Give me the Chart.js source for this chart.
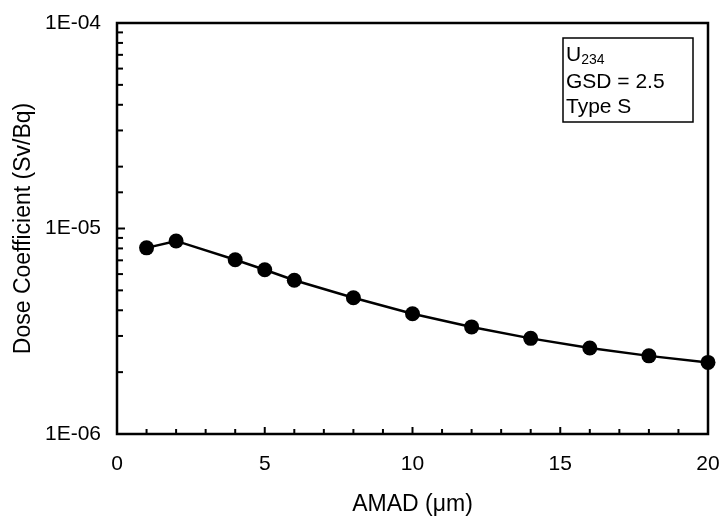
<!DOCTYPE html>
<html>
<head>
<meta charset="utf-8">
<script src="https://cdn.jsdelivr.net/npm/chart.js@4/dist/chart.umd.min.js"></script>
<style>
  html, body { margin: 0; padding: 0; background: #fff; }
  #wrap { width: 721px; height: 516px; position: relative; }
</style>
</head>
<body>
<div id="wrap"><canvas id="chart"></canvas></div>
<script>
// Data
const amad = [1, 2, 4, 5, 6, 8, 10, 12, 14, 16, 18, 20];
const doseCoeff = [8.05e-6, 8.7e-6, 7.05e-6, 6.3e-6, 5.6e-6, 4.6e-6, 3.85e-6, 3.32e-6, 2.92e-6, 2.62e-6, 2.4e-6, 2.23e-6];
const xTickLabels = [0, 5, 10, 15, 20];
const yTickLabels = ['1E-06', '1E-05', '1E-04'];
const noteLines = ['GSD = 2.5', 'Type S'];

const FONT = '"Liberation Sans", Arial, sans-serif';

// Frame + inward ticks + the note box
const framePlugin = {
    id: 'frame',
    afterDraw(chart) {
        const { ctx, chartArea: a, scales } = chart;
        ctx.save();
        ctx.strokeStyle = '#000';

        // x ticks pointing up
        ctx.lineWidth = 2;
        scales.x.ticks.forEach(t => {
            const px = scales.x.getPixelForValue(t.value);
            const len = xTickLabels.includes(t.value) ? 7 : 5;
            ctx.beginPath();
            ctx.moveTo(px, a.bottom);
            ctx.lineTo(px, a.bottom - len);
            ctx.stroke();
        });
        // y ticks pointing right
        scales.y.ticks.forEach(t => {
            const py = scales.y.getPixelForValue(t.value);
            const e = Math.log10(t.value);
            const len = Math.abs(e - Math.round(e)) < 1e-6 ? 8 : 6;
            ctx.beginPath();
            ctx.moveTo(a.left, py);
            ctx.lineTo(a.left + len, py);
            ctx.stroke();
        });

        ctx.lineWidth = 2.5;
        ctx.strokeRect(a.left, a.top, a.right - a.left, a.bottom - a.top);

        // note box
        const bx = 563, by = 38, bw = 130, bh = 84;
        ctx.lineWidth = 1.5;
        ctx.strokeRect(bx, by, bw, bh);
        ctx.fillStyle = '#000';
        ctx.textBaseline = 'alphabetic';
        ctx.textAlign = 'left';
        ctx.font = '21px ' + FONT;
        ctx.fillText('U', bx + 3, by + 23);
        const uw = ctx.measureText('U').width;
        ctx.font = '14px ' + FONT;
        ctx.fillText('234', bx + 3 + uw, by + 26);
        ctx.font = '21px ' + FONT;
        noteLines.forEach((line, i) => {
            ctx.fillText(line, bx + 3, by + 49.5 + i * 25.5);
        });
        ctx.restore();
    }
};

new Chart(document.getElementById('chart'), {
    type: 'line',
    data: {
        datasets: [{
            data: amad.map((x, i) => ({ x: x, y: doseCoeff[i] })),
            borderColor: '#000',
            backgroundColor: '#000',
            borderWidth: 2.5,
            pointRadius: 7.5,
            pointHoverRadius: 7.5,
            pointBackgroundColor: '#000',
            pointBorderWidth: 0,
            tension: 0,
            clip: false
        }]
    },
    options: {
        responsive: true,
        maintainAspectRatio: false,
        animation: false,
        events: [],
        layout: { padding: { left: 0, right: 13, top: 23, bottom: 0 } },
        plugins: {
            legend: { display: false },
            tooltip: { enabled: false }
        },
        scales: {
            x: {
                type: 'linear',
                min: 0,
                max: 20,
                grid: { display: false, drawTicks: false },
                border: { display: false },
                ticks: {
                    stepSize: 1,
                    autoSkip: false,
                    maxRotation: 0,
                    padding: 18,
                    color: '#000',
                    font: { family: FONT, size: 21 },
                    callback: v => xTickLabels.includes(v) ? String(v) : ''
                },
                title: {
                    display: true,
                    text: 'AMAD (\u03bcm)',
                    color: '#000',
                    font: { family: FONT, size: 23, lineHeight: 1 },
                    padding: { top: 0, bottom: 0 }
                },
                afterFit: s => {
                    s.height = 82;
                    s.paddingLeft = 0;
                    s.paddingRight = 0;
                }
            },
            y: {
                type: 'logarithmic',
                min: 1e-6,
                max: 1e-4,
                grid: { display: false, drawTicks: false },
                border: { display: false },
                ticks: {
                    autoSkip: false,
                    padding: 16,
                    color: '#000',
                    font: { family: FONT, size: 21 },
                    callback: v => {
                        const e = Math.log10(v);
                        if (Math.abs(e - Math.round(e)) > 1e-6) return '';
                        return yTickLabels.find(l => Number(l) === Math.pow(10, Math.round(e))) || '';
                    }
                },
                title: {
                    display: true,
                    text: 'Dose Coefficient (Sv/Bq)',
                    color: '#000',
                    font: { family: FONT, size: 23, lineHeight: 1 },
                    padding: { top: 12.5, bottom: 0 }
                },
                afterFit: s => {
                    s.width = 117;
                    s.paddingTop = 0;
                    s.paddingBottom = 0;
                }
            }
        }
    },
    plugins: [framePlugin]
});
</script>
</body>
</html>
